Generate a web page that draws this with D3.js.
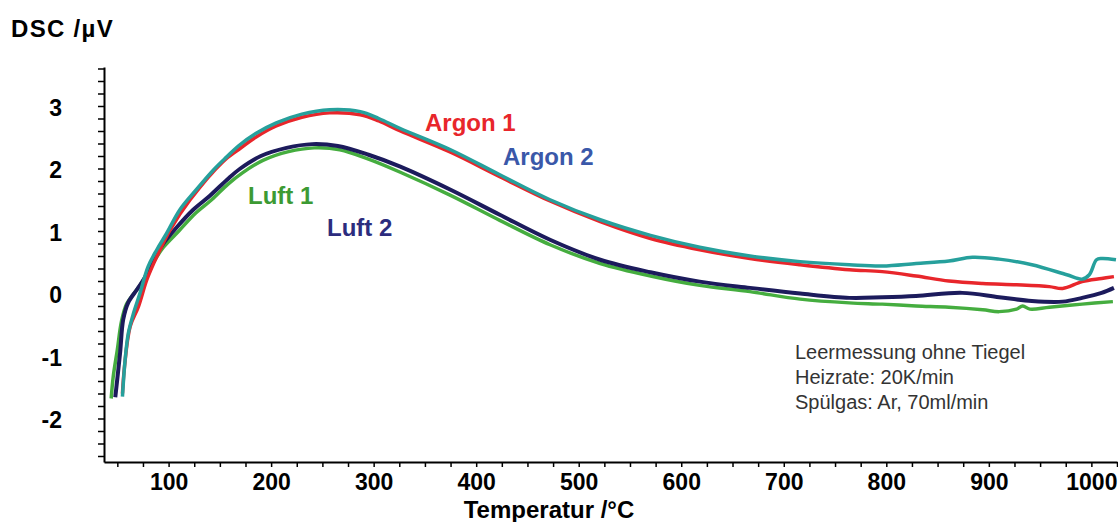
<!DOCTYPE html>
<html><head><meta charset="utf-8">
<script src="https://cdn.jsdelivr.net/npm/d3@7/dist/d3.min.js"></script>
<style>
html,body{margin:0;padding:0;background:#fff;}
svg{display:block;font-family:"Liberation Sans",Arial,Helvetica,sans-serif;}
</style></head>
<body>
<svg id="chart" width="1118" height="522"></svg>
<script>
// ---- data (temperature °C, DSC µV) ----
const argon1 = [[55,-1.6],[57,-1.17],[62.5,-0.53],[70.6,-0.21],[78.8,0.22],[88.5,0.59],[101.5,1.02],[121,1.5],[153,2.11],[168,2.3],[185,2.5],[205,2.68],[230,2.82],[257,2.89],[287,2.86],[305,2.76],[326,2.6],[375,2.26],[423,1.87],[472,1.48],[521,1.15],[570,0.88],[618,0.7],[667,0.56],[716,0.46],[764,0.38],[796,0.35],[829,0.28],[861,0.2],[894,0.16],[927,0.14],[959,0.11],[972,0.08],[991,0.19],[1010,0.24],[1022,0.27]];
const argon2 = [[55,-1.65],[57.6,-1.06],[60.8,-0.63],[65.7,-0.32],[72,0.0],[80,0.43],[88.5,0.7],[98,0.96],[111,1.34],[127,1.66],[144,1.98],[157,2.19],[168,2.36],[185,2.56],[205,2.73],[230,2.87],[257,2.94],[287,2.91],[305,2.8],[326,2.64],[375,2.3],[423,1.9],[472,1.5],[521,1.18],[570,0.93],[618,0.74],[667,0.6],[716,0.51],[764,0.46],[796,0.44],[829,0.48],[861,0.52],[884,0.58],[910,0.55],[942,0.46],[976,0.3],[991,0.23],[998,0.3],[1005,0.54],[1010,0.56],[1024,0.54]];
const luft1 = [[44,-1.68],[46,-1.33],[50,-0.9],[54,-0.45],[59,-0.17],[68,0.04],[77,0.25],[86,0.52],[95,0.74],[110,1.0],[126,1.28],[142,1.5],[158,1.75],[172,1.93],[192,2.13],[217,2.27],[242,2.33],[267,2.3],[295,2.15],[326,1.94],[375,1.57],[423,1.17],[472,0.78],[521,0.48],[570,0.28],[618,0.13],[667,0.03],[716,-0.09],[764,-0.15],[796,-0.17],[829,-0.2],[861,-0.22],[894,-0.26],[910,-0.29],[927,-0.25],[933,-0.2],[940,-0.25],[959,-0.22],[991,-0.17],[1021,-0.13]];
const luft2 = [[48,-1.66],[52.7,-0.95],[55.7,-0.42],[60.5,-0.15],[69,0.06],[77,0.26],[85,0.54],[94,0.78],[108,1.06],[124,1.34],[140,1.56],[157,1.82],[170,2.0],[190,2.2],[215,2.33],[240,2.39],[265,2.36],[295,2.22],[326,2.03],[375,1.66],[423,1.26],[472,0.86],[521,0.54],[570,0.34],[618,0.19],[667,0.09],[716,0.0],[764,-0.07],[796,-0.06],[829,-0.04],[874,0.01],[910,-0.06],[942,-0.12],[972,-0.13],[991,-0.07],[1010,0.01],[1022,0.09]];

const xTicks = d3.range(50, 1026, 25);
const xLabels = [100,200,300,400,500,600,700,800,900,1000];
const yTicks = d3.range(-2.6, 3.61, 0.2).map(v => Math.round(v*10)/10);
const yLabels = [-2,-1,0,1,2,3];

const seriesNames = ["Luft 1","Luft 2","Argon 1","Argon 2"];
const seriesData = [luft1, luft2, argon1, argon2];
const seriesColors = ["#45ad3f","#1c1b5c","#e8262b","#26a09c"];
const labelColors = ["#3c9a33","#2c2c7e","#e8262b","#3a58a9"];
const labelPos = [[248,204],[327,236],[425,131],[503,165]]; // pixel anchor for text labels

const svg = d3.select("#chart");
const x = d3.scaleLinear().domain([37,1025]).range([104,1117]);
const y = d3.scaleLinear().domain([-2.696,3.624]).range([462,67]);

// axes
const xAxis = d3.axisBottom(x).tickValues(xTicks).tickSize(5).tickSizeOuter(0)
  .tickFormat(d => xLabels.includes(d) ? d : "");
const gx = svg.append("g").attr("transform","translate(0,462)").call(xAxis);
gx.select(".domain").attr("stroke","#000").attr("stroke-width",2);
gx.selectAll(".tick line").attr("stroke","#000").attr("stroke-width",1.5);
gx.selectAll(".tick text").attr("fill","#000").attr("font-size",23).attr("font-weight","bold")
  .attr("font-family","'Liberation Sans',Arial,sans-serif").attr("dy","0.71em").attr("y",12);

const yAxis = d3.axisLeft(y).tickValues(yTicks).tickSize(6).tickSizeOuter(0)
  .tickFormat(d => yLabels.includes(d) ? d : "").tickPadding(36);
const gy = svg.append("g").attr("transform","translate(104,0)").call(yAxis);
gy.select(".domain").attr("stroke","#000").attr("stroke-width",2);
gy.selectAll(".tick line").attr("stroke","#000").attr("stroke-width",1.5);
gy.selectAll(".tick text").attr("fill","#000").attr("font-size",23).attr("font-weight","bold")
  .attr("font-family","'Liberation Sans',Arial,sans-serif").attr("dy","0.4em");

// curves
const line = d3.line().x(d => x(d[0])).y(d => y(d[1])).curve(d3.curveCatmullRom.alpha(0.5));
svg.append("g").selectAll("path").data(seriesData).join("path")
  .attr("d", line).attr("fill","none")
  .attr("stroke",(d,i)=>seriesColors[i]).attr("stroke-width",(d,i)=> i===1 ? 4 : 3.5)
  .attr("stroke-linejoin","round").attr("stroke-linecap","butt");

// series labels
svg.append("g").selectAll("text").data(seriesNames).join("text")
  .attr("x",(d,i)=>labelPos[i][0]).attr("y",(d,i)=>labelPos[i][1])
  .attr("fill",(d,i)=>labelColors[i]).attr("font-size",24).attr("font-weight","bold")
  .text(d=>d);

// titles
svg.append("text").attr("x",11).attr("y",37).attr("font-size",24).attr("font-weight","bold")
  .attr("letter-spacing",1.3).attr("fill","#000").text("DSC /µV");
svg.append("text").attr("x",549).attr("y",518).attr("text-anchor","middle").attr("font-size",24)
  .attr("font-weight","bold").attr("fill","#000").text("Temperatur /°C");

// annotation
const note = ["Leermessung ohne Tiegel","Heizrate: 20K/min","Spülgas: Ar, 70ml/min"];
svg.append("g").selectAll("text").data(note).join("text")
  .attr("x",795).attr("y",(d,i)=>359+i*25).attr("font-size",20).attr("fill","#333")
  .text(d=>d);
</script>
</body></html>
